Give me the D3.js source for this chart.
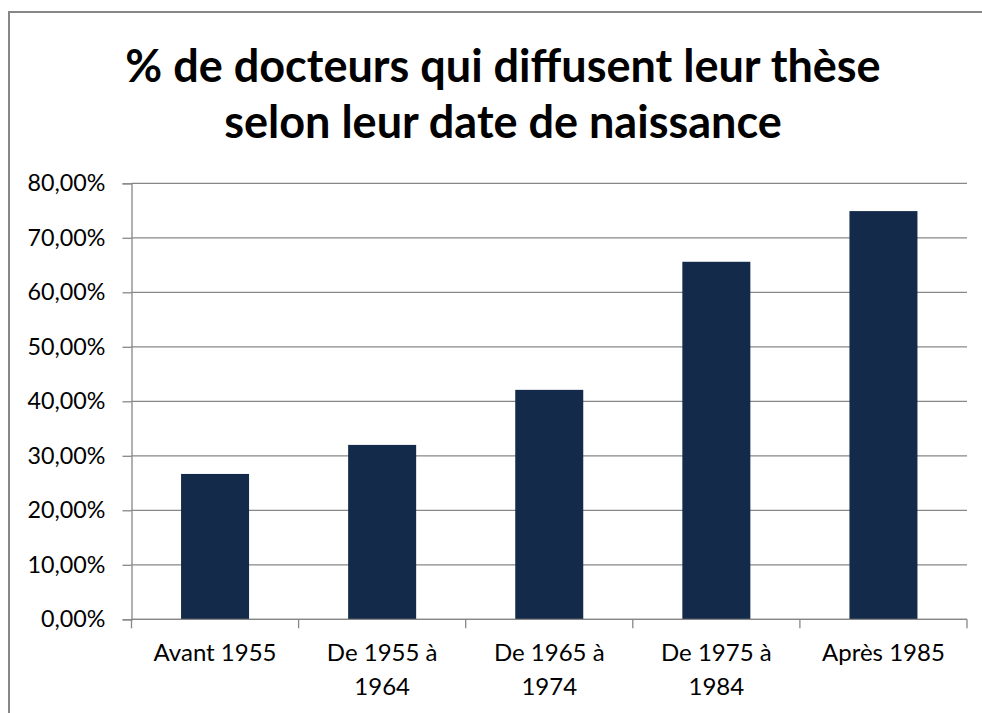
<!DOCTYPE html>
<html>
<head>
<meta charset="utf-8">
<script src="https://cdn.jsdelivr.net/npm/d3@7"></script>
<style>
  html, body { margin: 0; padding: 0; background: #ffffff; overflow: hidden; }
  svg { display: block; }
</style>
</head>
<body>
<div id="chart"></div>
<script>
// data
var titleLines = ["% de docteurs qui diffusent leur thèse", "selon leur date de naissance"];
var categories = ["Avant 1955", "De 1955 à 1964", "De 1965 à 1974", "De 1975 à 1984", "Après 1985"];
var shares = [0.2667, 0.32, 0.421, 0.656, 0.749];
var yTicks = [0, 0.1, 0.2, 0.3, 0.4, 0.5, 0.6, 0.7, 0.8];

var width = 982, height = 713;
var font = "Lato, 'Open Sans', sans-serif";
var plot = { left: 131.5, right: 967, top: 183.3, bottom: 619.3 };

var svg = d3.select("#chart").append("svg")
    .attr("width", width)
    .attr("height", height);

// chart frame: only the top and left edges are inside the window
svg.append("path")
    .attr("d", "M9," + (height + 5) + "V12H" + (width + 5))
    .attr("fill", "none")
    .attr("stroke", "#878787")
    .attr("stroke-width", 2);

// helper: pick a font size so a string gets a given width
function fitSize(txt, weight, target) {
    var t = svg.append("text")
        .style("font-family", font)
        .style("font-weight", weight)
        .style("font-size", "20px")
        .text(txt);
    var w = t.node().getComputedTextLength();
    t.remove();
    return 20 * target / w;
}

// title
var titleSize = (fitSize(titleLines[0], 700, 755) + fitSize(titleLines[1], 700, 558)) / 2;
svg.append("text")
    .attr("x", 503)
    .attr("text-anchor", "middle")
    .style("font-family", font)
    .style("font-weight", 700)
    .style("font-size", titleSize + "px")
    .style("fill", "#000000")
    .selectAll("tspan")
    .data(titleLines)
    .enter()
    .append("tspan")
    .attr("x", 503)
    .attr("y", function (d, i) { return 82 + i * 56; })
    .text(function (d) { return d; });

// scales
var x = d3.scaleBand()
    .domain(categories)
    .range([plot.left, plot.right])
    .paddingInner(0.593)
    .paddingOuter(0.593 / 2);
var y = d3.scaleLinear()
    .domain([0, 0.8])
    .range([plot.bottom, plot.top]);

var fr = d3.formatLocale({ decimal: ",", thousands: " ", grouping: [3], currency: ["", " €"] });
var pct = fr.format(".2%");

var tickSize = fitSize("80,00%", 400, 78);

// gridlines
svg.append("g")
    .selectAll("line")
    .data(yTicks)
    .enter()
    .append("line")
    .attr("x1", plot.left)
    .attr("x2", plot.right)
    .attr("y1", function (d) { return y(d); })
    .attr("y2", function (d) { return y(d); })
    .attr("stroke", "#878787")
    .attr("stroke-width", 1.3);

// y axis
var yAxis = svg.append("g")
    .attr("transform", "translate(" + plot.left + ",0)")
    .call(d3.axisLeft(y).tickValues(yTicks).tickFormat(pct).tickSize(9).tickPadding(17));
yAxis.select(".domain").attr("stroke", "#878787").attr("stroke-width", 1.3);
yAxis.selectAll(".tick line").attr("stroke", "#878787").attr("stroke-width", 1.3);
yAxis.selectAll(".tick text")
    .style("font-family", font)
    .style("font-size", tickSize + "px")
    .attr("fill", "#000000");

// bars
svg.append("g")
    .selectAll("rect")
    .data(shares)
    .enter()
    .append("rect")
    .attr("x", function (d, i) { return x(categories[i]); })
    .attr("y", function (d) { return y(d); })
    .attr("width", x.bandwidth())
    .attr("height", function (d) { return y(0) - y(d); })
    .attr("fill", "#142a4a");

// x axis line and ticks at category boundaries
var step = x.step();
var bounds = d3.range(categories.length + 1).map(function (i) { return plot.left + i * step; });
svg.append("line")
    .attr("x1", plot.left)
    .attr("x2", plot.right)
    .attr("y1", plot.bottom)
    .attr("y2", plot.bottom)
    .attr("stroke", "#878787")
    .attr("stroke-width", 1.3);
svg.append("g")
    .selectAll("line")
    .data(bounds)
    .enter()
    .append("line")
    .attr("x1", function (d) { return d; })
    .attr("x2", function (d) { return d; })
    .attr("y1", plot.bottom)
    .attr("y2", plot.bottom + 9)
    .attr("stroke", "#878787")
    .attr("stroke-width", 1.3);

// category labels, wrapped like the original
var labelSize = fitSize("Avant 1955", 400, 123);
var labels = svg.append("g")
    .style("font-family", font)
    .style("font-size", labelSize + "px")
    .attr("text-anchor", "middle")
    .attr("fill", "#000000");

categories.forEach(function (c) {
    var words = c.split(" ");
    var lines = [];
    var line = [];
    var probe = labels.append("text");
    words.forEach(function (w) {
        line.push(w);
        probe.text(line.join(" "));
        if (probe.node().getComputedTextLength() > 140 && line.length > 1) {
            line.pop();
            lines.push(line.join(" "));
            line = [w];
        }
    });
    lines.push(line.join(" "));
    probe.remove();
    var cx = x(c) + x.bandwidth() / 2;
    var t = labels.append("text");
    lines.forEach(function (l, i) {
        t.append("tspan")
            .attr("x", cx)
            .attr("y", 661 + i * 33.5)
            .text(l);
    });
});
</script>
</body>
</html>
